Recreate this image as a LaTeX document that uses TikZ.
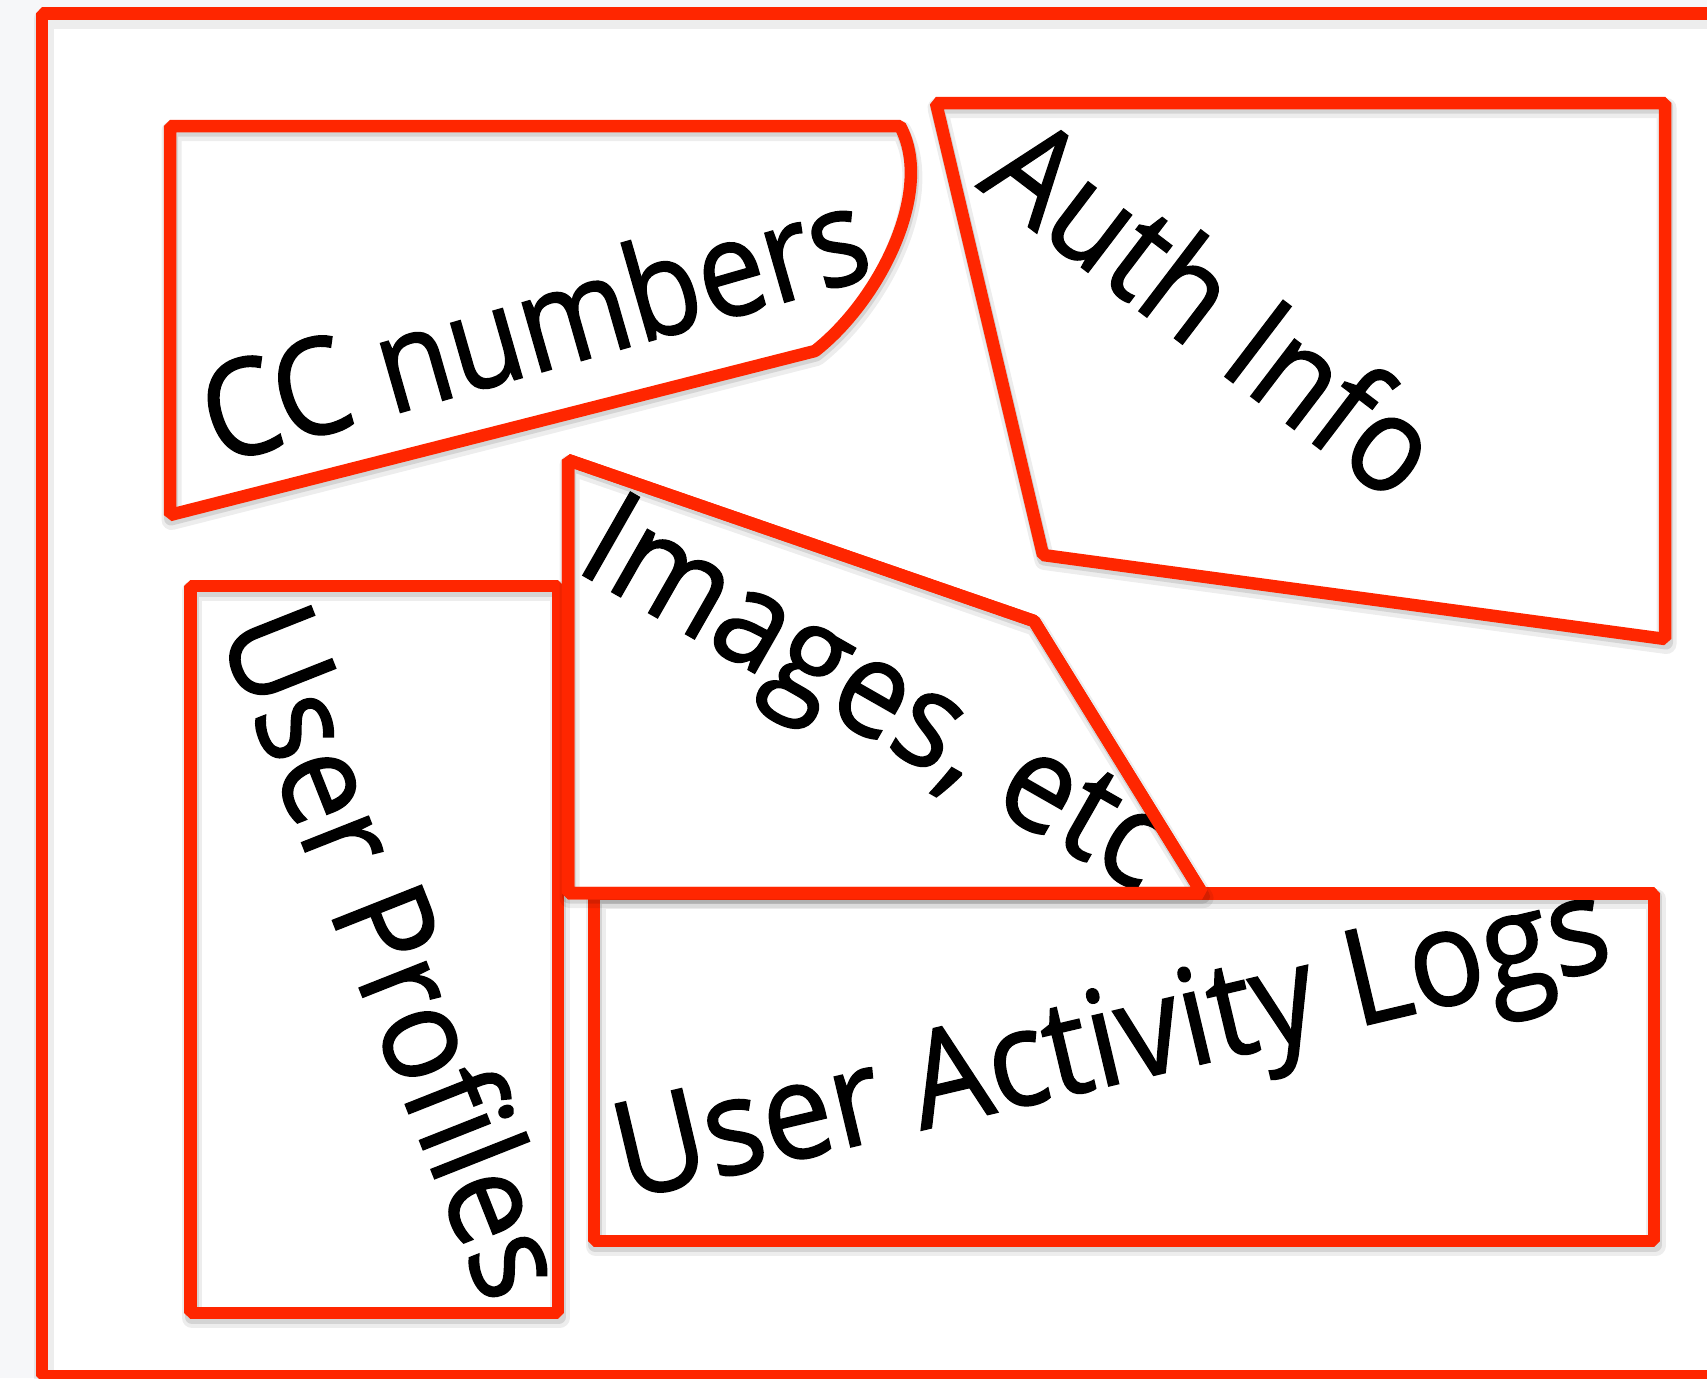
\documentclass[tikz,border=0pt]{standalone}
\usepackage{fontspec}
\setmainfont{Open Sans}
\newfontface\labelface{Open Sans}[FakeBold=1.2]
\usepackage{graphicx}

\definecolor{boxred}{RGB}{255,38,0}
\definecolor{pagegray}{RGB}{246,247,249}

\tikzset{
  box/.style={draw=boxred, line width=6.25pt, line join=bevel},
  softshadow/.style={draw=black, draw opacity=0.07, line width=10pt, line join=round, shift={(1.5,5)}},
  hardshadow/.style={draw=black, draw opacity=0.10, line width=7pt, line join=round, shift={(1,3.5)}},
  label/.style={inner sep=0pt, anchor=base west, text=black, font=\labelface\fontsize{67}{74}\selectfont},
  % outlines of the regions, in pixel units (x right, y down)
  framepath/.style={insert path={(1760,13.7) -- (42,13.7) -- (42,1376) -- (1760,1376)}},
  ccpath/.style={insert path={(170,126) -- (900,126) .. controls (935,190) and (880,300) .. (815,351) -- (170,515) -- cycle}},
  authpath/.style={insert path={(936,103) -- (1665,103) -- (1665,639) -- (1043,555) -- cycle}},
  profilepath/.style={insert path={(190.5,586) rectangle (558,1313)}},
  logpath/.style={insert path={(594,893.5) rectangle (1654,1241)}},
  imagepath/.style={insert path={(568,460) -- (1034,621) -- (1202,893) -- (568,893) -- cycle}},
}

\begin{document}
\begin{tikzpicture}[x=0.5pt, y=-0.5pt]
  \useasboundingbox (0,0) rectangle (1707,1378);
  \clip (0,0) rectangle (1707,1378);
  \fill[pagegray] (0,0) rectangle (1707,1378);
  \fill[white] (42,13.7) rectangle (1760,1376);

  % outer frame
  \draw[softshadow, framepath];
  \draw[box, framepath];

  % credit card numbers
  \draw[softshadow, ccpath];
  \draw[hardshadow, ccpath];
  \draw[box, ccpath];
  \node[label, rotate=16] (cc) at (217,465) {\resizebox{343pt}{\height}{CC numbers}};

  % authentication info
  \draw[softshadow, authpath];
  \draw[hardshadow, authpath];
  \draw[box, authpath];
  \node[label, rotate=-37.3] (auth) at (975,186) {\resizebox{263pt}{\height}{Auth Info}};

  % user profiles
  \draw[softshadow, profilepath];
  \draw[hardshadow, profilepath];
  \draw[box, profilepath];
  \begin{scope}
    \path[clip, profilepath];
    \node[label, rotate=-68.4] (profiles) at (217.6,630.2) {\resizebox{364pt}{\height}{User Profiles}};
  \end{scope}

  % activity logs
  \draw[softshadow, logpath];
  \draw[hardshadow, logpath];
  \draw[box, logpath];
  \begin{scope}
    \path[clip, logpath];
    \node[label, rotate=13.3] (logs) at (626,1200) {\resizebox{508.5pt}{\height}{User Activity Logs}};
  \end{scope}
  \draw[box, logpath];

  % images, drawn last so it sits on top of the logs box
  \draw[softshadow, imagepath];
  \draw[hardshadow, imagepath];
  \draw[box, imagepath];
  \begin{scope}
    \path[clip, imagepath];
    \node[label, rotate=-29.7] (images) at (572,569) {\scalebox{0.93}[1]{Images, etc}};
  \end{scope}
  \draw[box, imagepath];
\end{tikzpicture}
\end{document}
